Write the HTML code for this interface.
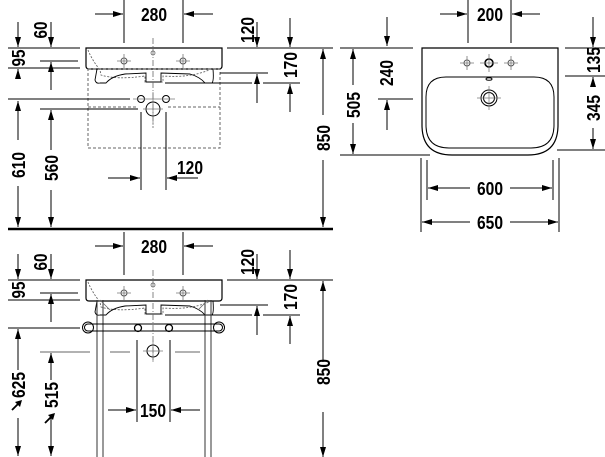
<!DOCTYPE html>
<html><head><meta charset="utf-8"><style>
html,body{margin:0;padding:0;background:#fff;}
svg{display:block}
text{font-family:"Liberation Sans",sans-serif;font-weight:bold;font-size:18.5px;fill:#000}
</style></head><body>
<svg width="605" height="457" viewBox="0 0 605 457" xmlns="http://www.w3.org/2000/svg">
<defs>
<marker id="a" viewBox="0 0 10 6" refX="10" refY="3" markerWidth="10" markerHeight="6" markerUnits="userSpaceOnUse" orient="auto"><path d="M0,0 L10,3 L0,6 z" fill="#000"/></marker>
<g id="tap"><circle r="3" fill="none" stroke="#555" stroke-width="1"/><path d="M-7,0H7M0,-7V7" stroke="#777" stroke-width="0.8"/></g>
<g id="basin">
 <path d="M86,48 H222 V66 Q222,69 219,69 H89 Q86,69 86,66 Z" fill="#fff" stroke="#000" stroke-width="1.2"/>
 <path d="M88,50 Q92,60 100,70 L101,75 Q116,80 145,76 L145,82 H163 L163,76 Q190,78 209,70" fill="none" stroke="#666" stroke-width="0.9" stroke-dasharray="2,1.5"/>
 <path d="M97,69 L95,80 Q96,84 100,83 L106,83 Q112,76 125,74 L146,73 L146,82 H161 L161,73 L190,74 Q200,77 205,83 L212,83 Q214,81 213,69" fill="none" stroke="#000" stroke-width="0.9"/>
 <use href="#tap" x="124" y="61"/><use href="#tap" x="183" y="61"/>
 <circle cx="153" cy="53" r="2" fill="none" stroke="#666" stroke-width="0.8"/>
 <path d="M153,38 V128" stroke="#666" stroke-width="0.8" stroke-dasharray="6,2,1,2"/>
</g>
</defs>
<g stroke="#000" stroke-width="1" fill="none">
<use href="#basin"/>
<rect x="88" y="69" width="132" height="79" stroke="#666" stroke-dasharray="3,2"/>
<path d="M88,107 H138 M168,107 H220" stroke="#666" stroke-dasharray="3,2"/>
<circle cx="141" cy="99" r="3.5"/><circle cx="166" cy="99" r="3.5"/>
<circle cx="153" cy="109" r="7"/>
<path d="M153,92 V125 M143,109 H163 M133,99 H175" stroke="#777" stroke-width="0.7"/>
<path d="M124,0 V43 M183,0 V43"/>
<path d="M95,14 H123" marker-end="url(#a)"/><path d="M213,14 H184" marker-end="url(#a)"/>
<path d="M8,48 H80 M40,61 H78 M8,68 H80 M8,99 H130 M40,109 H138"/>
<path d="M18,22 V47" marker-end="url(#a)"/><path d="M51,22 V47" marker-end="url(#a)"/>
<path d="M18,78 V69" marker-end="url(#a)"/>
<path d="M18,140 V101" marker-end="url(#a)"/><path d="M18,186 V227" marker-end="url(#a)"/>
<path d="M51,90 V62" marker-end="url(#a)"/>
<path d="M51,150 V110" marker-end="url(#a)"/><path d="M51,190 V227" marker-end="url(#a)"/>
<path d="M141,112 V190 M166,112 V190"/>
<path d="M108,178 H140" marker-end="url(#a)"/><path d="M198,178 H167" marker-end="url(#a)"/>
<path d="M227,48 H333 M220,73 H268 M165,83 H252 M263,83 H300"/>
<path d="M257,22 V47" marker-end="url(#a)"/><path d="M290,18 V47" marker-end="url(#a)"/>
<path d="M257,103 V74" marker-end="url(#a)"/><path d="M290,112 V84" marker-end="url(#a)"/>
<path d="M323,115 V49" marker-end="url(#a)"/><path d="M323,160 V227" marker-end="url(#a)"/>
<path d="M8,229 H333" stroke-width="2.5"/>

<path d="M422,48 H558 V125 Q558,155 528,155 H452 Q422,155 422,125 Z" stroke-width="1.2"/>
<path d="M446,77 H534 Q554,77 554,97 V125 Q554,148 531,148 H449 Q426,148 426,125 V97 Q426,77 446,77 Z"/>
<use href="#tap" x="467" y="63"/><use href="#tap" x="511" y="63"/>
<circle cx="489" cy="63" r="4" stroke-width="1.6"/><path d="M480,63 H498 M489,54 V72" stroke="#777" stroke-width="0.8"/>
<ellipse cx="489" cy="79" rx="3" ry="1.3"/>
<circle cx="489" cy="98" r="8"/><circle cx="489" cy="98" r="5.5"/>
<path d="M477,98 H501 M489,86 V110" stroke="#777" stroke-width="0.7"/>
<path d="M468,0 V43 M511,0 V43"/>
<path d="M440,14 H467" marker-end="url(#a)"/><path d="M540,14 H512" marker-end="url(#a)"/>
<path d="M340,48 H413 M340,155 H430 M378,99 H413"/>
<path d="M353,85 V49" marker-end="url(#a)"/><path d="M353,123 V154" marker-end="url(#a)"/>
<path d="M387,17 V46" marker-end="url(#a)"/><path d="M387,130 V100" marker-end="url(#a)"/>
<path d="M565,48 H605 M565,76 H605 M557,150 H605"/>
<path d="M593,17 V47" marker-end="url(#a)"/><path d="M593,86 V77" marker-end="url(#a)"/>
<path d="M593,128 V149" marker-end="url(#a)"/>
<path d="M427,160 V200 M553,160 V200 M421,158 V232 M559,158 V232"/>
<path d="M470,188 H428" marker-end="url(#a)"/><path d="M510,188 H552" marker-end="url(#a)"/>
<path d="M470,222 H422" marker-end="url(#a)"/><path d="M510,222 H558" marker-end="url(#a)"/>

<g transform="translate(0,232)">
<use href="#basin"/>
<path d="M124,0 V43 M183,0 V43"/>
<path d="M95,14 H123" marker-end="url(#a)"/><path d="M213,14 H184" marker-end="url(#a)"/>
<path d="M8,48 H80 M40,61 H78 M8,68 H80 M8,96 H80"/>
<path d="M18,22 V47" marker-end="url(#a)"/><path d="M51,22 V47" marker-end="url(#a)"/>
<path d="M51,90 V62" marker-end="url(#a)"/>
<path d="M227,48 H333 M220,73 H268 M165,83 H252 M263,83 H300"/>
<path d="M257,22 V47" marker-end="url(#a)"/><path d="M290,18 V47" marker-end="url(#a)"/>
<path d="M257,103 V74" marker-end="url(#a)"/><path d="M290,112 V84" marker-end="url(#a)"/>
<path d="M323,130 V49" marker-end="url(#a)"/><path d="M323,180 V225" marker-end="url(#a)"/>
</g>
<path d="M97,300 V457 M103,300 V457 M205,300 V457 M211,300 V457" stroke="#333"/>
<path d="M100,300 L110,310 M208,300 L198,310" stroke="#666" stroke-width="0.8"/>
<path d="M88,324 H219 A3.5,3.5 0 0 1 219,331 H88 A3.5,3.5 0 0 1 88,324 Z"/>
<circle cx="88" cy="327.5" r="5.5"/><circle cx="219" cy="327.5" r="5.5"/>
<circle cx="138" cy="328" r="3.5" stroke-width="1.3"/><circle cx="169" cy="328" r="3.5" stroke-width="1.3"/>
<circle cx="153" cy="351" r="6"/>
<path d="M153,340 V362 M143,351 H163" stroke="#777" stroke-width="0.7"/>
<path d="M40,352 H90 M110,352 H130 M175,352 H200" stroke="#666"/>
<path d="M137,340 V422 M170,340 V422"/>
<path d="M108,410 H136" marker-end="url(#a)"/><path d="M200,410 H171" marker-end="url(#a)"/>
<path d="M18,370 V329" marker-end="url(#a)"/><path d="M18,418 V456" marker-end="url(#a)"/>
<path d="M51,380 V353" marker-end="url(#a)"/><path d="M51,418 V456" marker-end="url(#a)"/>
<path d="M12,410 L18,404 M45,423 L51,417" stroke-width="1.8"/>
</g>
<polygon points="22,400 15,402 20,407" fill="#000"/>
<polygon points="55,413 48,415 53,420" fill="#000"/>

<text x="154" y="21" text-anchor="middle" textLength="26" lengthAdjust="spacingAndGlyphs">280</text>
<text x="154" y="253" text-anchor="middle" textLength="26" lengthAdjust="spacingAndGlyphs">280</text>
<text x="490" y="21" text-anchor="middle" textLength="26" lengthAdjust="spacingAndGlyphs">200</text>
<text x="490" y="195" text-anchor="middle" textLength="26" lengthAdjust="spacingAndGlyphs">600</text>
<text x="490" y="229" text-anchor="middle" textLength="26" lengthAdjust="spacingAndGlyphs">650</text>
<text x="190" y="174" text-anchor="middle" textLength="26" lengthAdjust="spacingAndGlyphs">120</text>
<text x="153" y="417" text-anchor="middle" textLength="26" lengthAdjust="spacingAndGlyphs">150</text>
<g text-anchor="middle" lengthAdjust="spacingAndGlyphs">
<text transform="translate(47,30) rotate(-90)" textLength="17" lengthAdjust="spacingAndGlyphs">60</text>
<text transform="translate(25,58) rotate(-90)" textLength="17" lengthAdjust="spacingAndGlyphs">95</text>
<text transform="translate(25,165) rotate(-90)" textLength="26" lengthAdjust="spacingAndGlyphs">610</text>
<text transform="translate(58,168) rotate(-90)" textLength="26" lengthAdjust="spacingAndGlyphs">560</text>
<text transform="translate(254,30) rotate(-90)" textLength="26" lengthAdjust="spacingAndGlyphs">120</text>
<text transform="translate(297,65) rotate(-90)" textLength="26" lengthAdjust="spacingAndGlyphs">170</text>
<text transform="translate(330,138) rotate(-90)" textLength="26" lengthAdjust="spacingAndGlyphs">850</text>
<text transform="translate(360,105) rotate(-90)" textLength="26" lengthAdjust="spacingAndGlyphs">505</text>
<text transform="translate(393,73) rotate(-90)" textLength="26" lengthAdjust="spacingAndGlyphs">240</text>
<text transform="translate(600,60) rotate(-90)" textLength="26" lengthAdjust="spacingAndGlyphs">135</text>
<text transform="translate(600,108) rotate(-90)" textLength="26" lengthAdjust="spacingAndGlyphs">345</text>
<text transform="translate(47,262) rotate(-90)" textLength="17" lengthAdjust="spacingAndGlyphs">60</text>
<text transform="translate(25,290) rotate(-90)" textLength="17" lengthAdjust="spacingAndGlyphs">95</text>
<text transform="translate(25,385) rotate(-90)" textLength="26" lengthAdjust="spacingAndGlyphs">625</text>
<text transform="translate(58,395) rotate(-90)" textLength="26" lengthAdjust="spacingAndGlyphs">515</text>
<text transform="translate(254,262) rotate(-90)" textLength="26" lengthAdjust="spacingAndGlyphs">120</text>
<text transform="translate(297,297) rotate(-90)" textLength="26" lengthAdjust="spacingAndGlyphs">170</text>
<text transform="translate(330,372) rotate(-90)" textLength="26" lengthAdjust="spacingAndGlyphs">850</text>
</g>
</svg>
</body></html>
